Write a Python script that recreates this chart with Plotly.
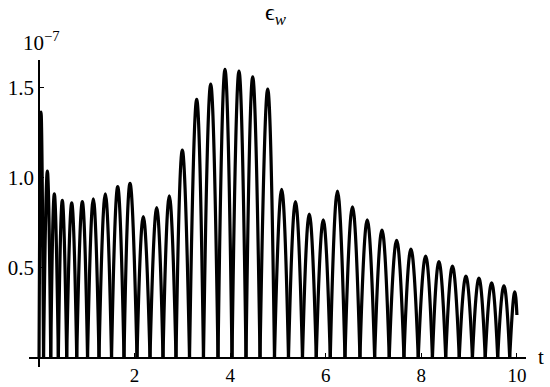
import plotly.graph_objects as go

# values (epsilon_w in units of 1e-7)
zero_t = [0.0, 0.094, 0.245, 0.404, 0.579, 0.789, 1.015, 1.255, 1.517, 1.778,
          2.050, 2.322, 2.594, 2.866, 3.149, 3.441, 3.745, 4.038, 4.331, 4.624,
          4.927, 5.220, 5.513, 5.801, 6.094, 6.402, 6.715, 7.023, 7.328, 7.636,
          7.935, 8.232, 8.510, 8.793, 9.069, 9.337, 9.598, 9.849]
peak_t = [0.042, 0.174, 0.320, 0.487, 0.684, 0.906, 1.136, 1.387, 1.646, 1.904,
          2.182, 2.462, 2.726, 2.998, 3.299, 3.592, 3.891, 4.184, 4.471, 4.785,
          5.077, 5.366, 5.655, 5.948, 6.245, 6.559, 6.868, 7.176, 7.483, 7.782,
          8.090, 8.368, 8.651, 8.933, 9.205, 9.471, 9.728, 9.955]
peak_v = [1.363, 1.036, 0.909, 0.873, 0.859, 0.866, 0.881, 0.910, 0.949, 0.968,
          0.783, 0.833, 0.898, 1.152, 1.433, 1.518, 1.599, 1.590, 1.558, 1.490,
          0.934, 0.866, 0.797, 0.765, 0.925, 0.838, 0.765, 0.709, 0.652, 0.603,
          0.565, 0.534, 0.509, 0.454, 0.442, 0.416, 0.400, 0.367]
end_t = 10.0
end_v = 0.238

xticks = [2, 4, 6, 8, 10]
yticks = [0.5, 1.0, 1.5]
ytick_labels = ["0.5", "1.0", "1.5"]

# one spline piece per hump so the zeros stay sharp
xs, ys = [], []
for i in range(len(peak_t)):
    if i + 1 < len(zero_t):
        nx, ny = zero_t[i + 1], 0.0
    else:
        nx, ny = end_t, end_v
    xs += [zero_t[i], peak_t[i], nx, None]
    ys += [0.0, peak_v[i], ny, None]

fig = go.Figure()
fig.add_trace(go.Scatter(x=xs, y=ys, mode="lines", connectgaps=False,
                         line=dict(color="black", width=3.2, shape="spline", smoothing=1.3),
                         hoverinfo="skip"))

serif = "Liberation Serif, Times New Roman, serif"
font = dict(family=serif, size=21, color="black")

fig.update_layout(
    width=550, height=387,
    margin=dict(l=29, r=24, t=60, b=20, autoexpand=False),
    paper_bgcolor="white", plot_bgcolor="white",
    showlegend=False,
    font=font,
    xaxis=dict(range=[-0.21, 10.19], tickvals=xticks, ticktext=[str(v) for v in xticks],
               showgrid=False, zeroline=False, showline=True, linecolor="black", linewidth=1.5,
               ticks="inside", ticklen=4, tickcolor="black",
               tickfont=dict(family=serif, size=19, color="black"),
               automargin=False, anchor="free", position=9 / 307),
    yaxis=dict(range=[-0.05, 1.651], tickvals=yticks, ticktext=ytick_labels,
               showgrid=False, zeroline=False, showline=True, linecolor="black", linewidth=1.5,
               ticks="inside", ticklen=4, tickcolor="black", tickfont=font,
               automargin=False, anchor="free", position=10 / 497),
    annotations=[
        dict(text="ϵ<sub><i>w</i></sub>", xref="paper", yref="paper", x=0.497, y=1.15,
             xanchor="center", yanchor="middle", showarrow=False,
             font=dict(family=serif, size=24, color="black")),
        dict(text="10<sup>−7</sup>", xref="paper", yref="paper", x=-0.016, y=1.059,
             xanchor="left", yanchor="middle", showarrow=False, font=font),
        dict(text="t", xref="paper", yref="paper", x=1.030, y=0.033,
             xanchor="center", yanchor="middle", showarrow=False, font=font),
    ],
)

# page body has an 8px default margin; drop it so the figure fills the window
fig.write_html("out.html", config={"displayModeBar": False},
               post_script="document.body.style.margin = '0';")
